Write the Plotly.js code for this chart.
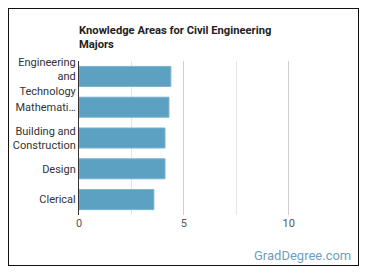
<!DOCTYPE html>
<html>
<head>
<meta charset="utf-8">
<script src="https://cdn.plot.ly/plotly-3.0.1.min.js"></script>
<style>
  html, body { margin: 0; padding: 0; background: #fff; }
  #frame { position: absolute; left: 8px; top: 8px; width: 349px; height: 256px; border: 1.5px solid #111; }
  #chart { position: absolute; left: 0; top: 0; width: 370px; height: 278px; }
</style>
</head>
<body>
<div id="frame"></div>
<div id="chart"></div>
<script>
// Knowledge areas (top to bottom) and their importance scores
const categories = [
  "Engineering<br>and<br>Technology",
  "Mathemati…",
  "Building and<br>Construction",
  "Design",
  "Clerical"
];
const scores = [4.38, 4.29, 4.1, 4.1, 3.57];
const xTickValues = [0, 5, 10];
const xTickLabels = ["0", "5", "10"];

const trace = {
  type: "bar",
  orientation: "h",
  y: categories,
  x: scores,
  width: 0.65,
  marker: { color: "#5ca1c2", line: { color: "#79b3cf", width: 1 } },
  hoverinfo: "none"
};

const layout = {
  width: 370,
  height: 278,
  margin: { l: 79, r: 31, t: 61, b: 63 },
  paper_bgcolor: "rgba(0,0,0,0)",
  plot_bgcolor: "rgba(0,0,0,0)",
  font: { family: "Roboto, sans-serif", size: 11, color: "#333" },
  showlegend: false,
  title: {
    text: "<b>Knowledge Areas for Civil Engineering<br>Majors</b>",
    font: { family: "Roboto, sans-serif", size: 11.2, color: "#222" },
    xref: "paper", x: 0, xanchor: "left",
    yref: "container", y: 0.878, yanchor: "top"
  },
  xaxis: {
    range: [0, 12.4],
    tickvals: xTickValues,
    ticktext: xTickLabels,
    showgrid: true,
    gridcolor: "#cfcfcf",
    gridwidth: 1,
    minor: { dtick: 2.5, tick0: 0, showgrid: true, gridcolor: "#e4e4e4", gridwidth: 1 },
    zeroline: false,
    showline: false,
    ticks: "",
    tickfont: { size: 11, color: "#555" },
    fixedrange: true
  },
  yaxis: {
    autorange: "reversed",
    showgrid: false,
    zeroline: false,
    showline: true,
    linecolor: "#333",
    linewidth: 1,
    ticks: "",
    tickfont: { size: 11, color: "#333" },
    fixedrange: true
  },
  annotations: [{
    text: "GradDegree.com",
    xref: "paper", yref: "paper",
    x: 1.055, y: -0.26,
    xanchor: "right", yanchor: "middle",
    showarrow: false,
    font: { family: "Roboto, sans-serif", size: 13, color: "#6d9fbf" }
  }]
};

Plotly.newPlot("chart", [trace], layout, { displayModeBar: false, staticPlot: true });
</script>
</body>
</html>
